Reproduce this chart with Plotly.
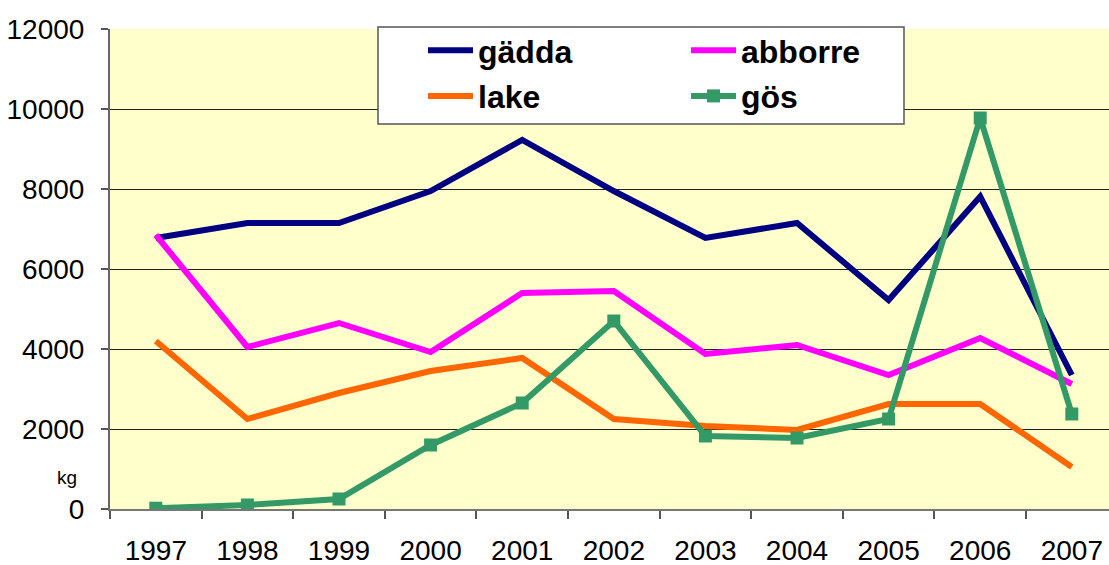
import plotly.graph_objects as go

years = ["1997", "1998", "1999", "2000", "2001", "2002", "2003", "2004", "2005", "2006", "2007"]
gadda = [6775, 7150, 7150, 7950, 9225, 7950, 6775, 7150, 5225, 7810, 3350]
abborre = [6850, 4050, 4650, 3925, 5400, 5450, 3875, 4100, 3350, 4275, 3125]
lake = [4200, 2250, 2900, 3450, 3775, 2250, 2075, 1975, 2625, 2625, 1050]
gos = [20, 100, 250, 1600, 2650, 4700, 1825, 1775, 2250, 9775, 2375]

W, H = 1109, 565
L, T, B, R = 110, 29, 56, 0
pw = W - L - R
ph = H - T - B

def px_x(x):
    return (x - L) / pw

def px_y(y):
    return 1 - (y - T) / ph

fig = go.Figure()
fig.add_trace(go.Scatter(x=years, y=gadda, name="gädda", mode="lines",
                         legend="legend", legendgroup="a", legendrank=1,
                         line=dict(color="#000080", width=6)))
fig.add_trace(go.Scatter(x=years, y=abborre, name="abborre", mode="lines",
                         legend="legend2", legendgroup="b", legendrank=1,
                         line=dict(color="#FF00FF", width=6)))
fig.add_trace(go.Scatter(x=years, y=lake, name="lake", mode="lines",
                         legend="legend", legendgroup="c", legendrank=2,
                         line=dict(color="#FF6600", width=6)))
fig.add_trace(go.Scatter(x=years, y=gos, name="gös", mode="lines+markers",
                         legend="legend2", legendgroup="d", legendrank=2,
                         line=dict(color="#339966", width=6),
                         marker=dict(symbol="square", size=13, color="#339966")))

font = "Liberation Sans, Arial, sans-serif"
legfont = dict(size=32, family=font, weight="bold", color="black")

fig.update_layout(
    width=W, height=H,
    margin=dict(l=L, r=R, t=T, b=B, pad=0, autoexpand=False),
    paper_bgcolor="white",
    plot_bgcolor="#FFFFCC",
    font=dict(family=font, color="black"),
    xaxis=dict(
        type="category",
        range=[-0.5, 10.406],
        automargin=False,
        tickson="boundaries",
        ticks="outside", ticklen=8, tickcolor="#555555", tickwidth=1.5,
        showline=True, linecolor="#777777", linewidth=2,
        showgrid=False,
        tickfont=dict(size=28, family=font),
        ticklabelstandoff=15,
        zeroline=False,
    ),
    yaxis=dict(
        range=[0, 12000],
        automargin=False,
        tickvals=[0, 2000, 4000, 6000, 8000, 10000, 12000],
        tickformat="d",
        ticks="outside", ticklen=7, tickcolor="#555555", tickwidth=1.5,
        showline=True, linecolor="#666666", linewidth=2,
        showgrid=True, gridcolor="#222222", gridwidth=1,
        tickfont=dict(size=28, family=font),
        ticklabelstandoff=11,
        zeroline=False,
    ),
    showlegend=True,
    legend=dict(
        orientation="v",
        x=px_x(423), y=px_y(23), xanchor="left", yanchor="top",
        bgcolor="rgba(0,0,0,0)", borderwidth=0,
        font=legfont, itemwidth=45, tracegroupgap=1,
    ),
    legend2=dict(
        orientation="v",
        x=px_x(686), y=px_y(23), xanchor="left", yanchor="top",
        bgcolor="rgba(0,0,0,0)", borderwidth=0,
        font=legfont, itemwidth=45, tracegroupgap=1,
    ),
    shapes=[dict(type="rect", xref="paper", yref="paper",
                 x0=px_x(378), x1=px_x(904), y0=px_y(124), y1=px_y(27),
                 fillcolor="white", line=dict(color="#555555", width=1.5),
                 layer="above")],
    annotations=[dict(text="kg", xref="paper", yref="paper",
                      x=px_x(67), y=px_y(477), xanchor="center", yanchor="middle",
                      showarrow=False, font=dict(size=19, family=font))],
)

fig.write_html("out.html", config={"displayModeBar": False},
               post_script="document.body.style.margin='0px';")
